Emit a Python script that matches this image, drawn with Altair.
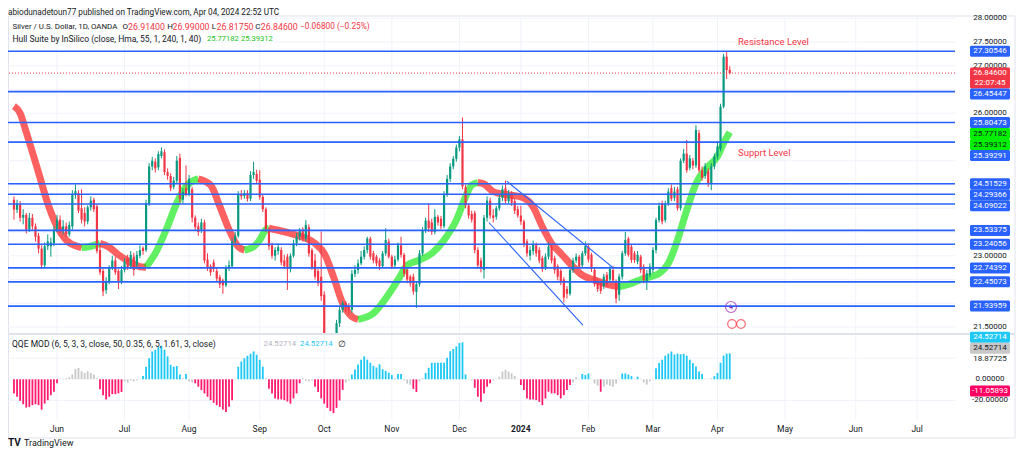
import altair as alt
import pandas as pd

# Silver / U.S. Dollar, 1D, OANDA -- one entry per daily bar, 12 May 2023 .. 5 Apr 2024
opens = [
    24.18, 23.97, 24.08, 23.80, 23.86, 23.55, 23.80, 23.62, 23.42, 23.15,  # 0
    22.80, 23.20, 23.20, 23.26, 23.55, 23.76, 23.55, 23.62, 23.45, 23.62,  # 10
    24.30, 24.32, 24.00, 23.90, 23.72, 24.02, 24.18, 24.04, 23.12, 22.68,  # 20
    22.28, 22.45, 22.75, 22.90, 22.68, 22.45, 22.70, 22.95, 22.78, 22.98,  # 30
    22.80, 23.00, 23.16, 23.12, 24.10, 24.88, 24.98, 24.86, 25.10, 25.18,  # 40
    24.76, 24.68, 24.45, 24.58, 25.06, 24.18, 24.42, 24.30, 24.40, 23.80,  # 50
    23.62, 23.55, 23.70, 22.92, 22.78, 22.86, 22.68, 22.55, 22.48, 22.38,  # 60
    22.74, 22.78, 23.30, 23.42, 24.30, 24.26, 24.32, 24.20, 24.70, 24.72,  # 70
    24.60, 24.24, 23.98, 23.56, 23.22, 23.00, 23.10, 23.12, 22.90, 22.98,  # 80
    22.72, 23.00, 23.26, 23.40, 23.55, 23.36, 23.60, 23.12, 22.90, 22.68,  # 90
    22.56, 22.18, 21.20, 20.95, 21.10, 21.20, 21.58, 21.86, 22.00, 21.92,  # 100
    21.86, 22.62, 22.70, 22.84, 22.98, 23.12, 23.36, 23.05, 22.98, 22.90,  # 110
    22.78, 23.05, 23.30, 22.98, 22.80, 22.92, 23.22, 23.02, 22.70, 22.56,  # 120
    22.56, 22.24, 22.40, 23.05, 23.54, 23.74, 23.70, 23.50, 23.82, 23.78,  # 130
    23.62, 24.30, 24.62, 24.88, 25.04, 25.28, 25.45, 24.44, 24.06, 23.88,  # 140
    23.90, 23.12, 22.90, 22.70, 23.80, 24.16, 23.85, 23.82, 24.00, 24.22,  # 150
    24.42, 24.15, 24.30, 24.15, 23.98, 23.85, 23.72, 23.30, 23.00, 23.10,  # 160
    23.22, 23.12, 22.95, 22.76, 22.98, 23.20, 22.95, 22.78, 22.68, 22.50,  # 170
    22.30, 22.20, 22.70, 22.90, 22.98, 22.80, 23.05, 23.19, 23.02, 22.70,  # 180
    22.46, 22.44, 22.36, 22.60, 22.50, 22.70, 22.45, 22.18, 22.56, 23.05,  # 190
    23.36, 23.19, 23.05, 22.88, 22.98, 22.77, 22.45, 22.60, 22.70, 23.12,  # 200
    23.75, 24.10, 23.75, 24.10, 24.42, 24.22, 24.40, 24.00, 25.00, 25.15,  # 210
    24.85, 25.00, 24.90, 25.58, 24.80, 24.68, 24.78, 24.52, 24.88, 25.09,  # 220
    25.25, 26.14, 27.19, 26.914,                                           # 230
]
highs = [
    24.25, 24.18, 24.15, 23.98, 23.90, 23.90, 23.88, 23.68, 23.48, 23.22,
    23.28, 23.45, 23.38, 23.62, 23.86, 23.85, 23.75, 23.70, 23.72, 24.38,
    24.50, 24.38, 24.40, 24.02, 24.06, 24.25, 24.22, 24.08, 23.20, 22.72,
    22.55, 22.80, 23.00, 22.98, 22.72, 22.78, 22.95, 23.02, 23.10, 23.06,
    23.10, 23.22, 23.20, 24.18, 24.95, 25.08, 25.05, 25.20, 25.28, 25.24,
    24.84, 24.74, 24.66, 25.10, 25.15, 24.42, 24.90, 24.70, 24.45, 23.85,
    23.70, 23.78, 23.76, 23.05, 22.82, 22.92, 22.74, 22.60, 22.52, 22.80,
    22.90, 23.36, 23.50, 24.36, 24.38, 24.38, 24.38, 24.78, 24.98, 24.81,
    24.80, 24.30, 24.02, 23.60, 23.28, 23.18, 23.26, 23.18, 23.02, 23.04,
    23.05, 23.34, 23.48, 23.58, 23.60, 23.75, 23.66, 23.16, 23.04, 22.72,
    23.51, 22.25, 21.35, 21.30, 21.36, 21.65, 21.95, 22.05, 22.05, 22.00,
    22.70, 22.80, 22.92, 23.10, 23.20, 23.40, 23.40, 23.10, 23.02, 22.95,
    23.10, 23.58, 23.36, 23.02, 23.00, 23.28, 23.40, 23.06, 22.75, 22.60,
    22.62, 22.45, 23.12, 23.60, 23.80, 24.10, 23.78, 23.98, 23.86, 23.84,
    24.36, 24.70, 24.95, 25.10, 25.34, 25.52, 25.91, 24.50, 24.10, 23.95,
    23.95, 23.18, 22.96, 23.86, 24.25, 24.22, 23.98, 24.05, 24.30, 24.48,
    24.58, 24.38, 24.36, 24.20, 24.05, 24.05, 23.76, 23.35, 23.20, 23.32,
    23.28, 23.18, 23.00, 23.05, 23.28, 23.25, 23.00, 22.82, 22.72, 22.55,
    22.36, 22.76, 22.96, 23.05, 23.02, 23.10, 23.30, 23.26, 23.06, 22.74,
    22.52, 22.48, 22.62, 22.66, 22.78, 22.78, 22.50, 22.62, 23.10, 23.50,
    23.40, 23.24, 23.10, 23.10, 23.02, 22.82, 22.70, 22.84, 23.18, 23.80,
    24.12, 24.16, 24.16, 24.42, 24.50, 24.45, 24.45, 25.05, 25.25, 25.44,
    25.12, 25.06, 25.75, 25.65, 24.88, 24.95, 24.84, 24.95, 25.15, 25.40,
    26.20, 27.25, 27.30, 26.99,
]
lows = [
    23.76, 23.90, 23.72, 23.66, 23.47, 23.50, 23.55, 23.30, 23.05, 22.72,
    22.74, 23.12, 22.98, 23.20, 23.50, 23.48, 23.45, 23.40, 23.40, 23.55,
    24.20, 23.90, 23.68, 23.62, 23.66, 23.95, 23.92, 23.05, 22.60, 22.15,
    22.20, 22.40, 22.70, 22.60, 22.30, 22.40, 22.65, 22.70, 22.72, 22.58,
    22.75, 22.95, 23.02, 23.08, 24.05, 24.80, 24.75, 24.80, 25.05, 24.70,
    24.60, 24.36, 24.40, 24.52, 24.12, 24.10, 24.25, 24.25, 23.70, 23.52,
    23.42, 23.48, 22.84, 22.68, 22.58, 22.66, 22.45, 22.32, 22.20, 22.34,
    22.68, 22.74, 23.25, 23.38, 24.18, 24.20, 24.14, 24.15, 24.62, 24.52,
    24.18, 23.92, 23.50, 23.12, 22.94, 22.90, 23.02, 22.80, 22.72, 22.28,
    22.65, 22.96, 23.20, 23.32, 23.30, 23.30, 22.98, 22.70, 22.50, 22.36,
    22.05, 21.10, 20.68, 20.75, 20.95, 20.95, 21.50, 21.80, 21.82, 21.78,
    21.80, 22.55, 22.62, 22.80, 22.92, 23.05, 22.92, 22.84, 22.78, 22.70,
    22.74, 23.00, 22.94, 22.72, 22.74, 22.88, 22.96, 22.56, 22.42, 22.35,
    22.18, 21.90, 22.35, 23.00, 23.48, 23.50, 23.44, 23.45, 23.64, 23.56,
    23.58, 24.24, 24.55, 24.82, 24.98, 25.20, 24.40, 24.00, 23.78, 23.70,
    23.05, 22.72, 22.65, 22.52, 23.72, 23.78, 23.70, 23.76, 23.95, 24.15,
    24.10, 24.10, 24.05, 23.88, 23.80, 23.65, 23.18, 22.98, 22.90, 23.02,
    22.98, 22.84, 22.66, 22.70, 22.92, 22.84, 22.62, 22.48, 22.38, 22.02,
    22.10, 22.16, 22.64, 22.85, 22.72, 22.74, 23.00, 22.86, 22.66, 22.35,
    22.24, 22.20, 22.30, 22.35, 22.45, 22.42, 22.00, 22.05, 22.50, 23.00,
    22.98, 22.85, 22.85, 22.82, 22.64, 22.42, 22.28, 22.55, 22.64, 23.05,
    23.70, 23.66, 23.70, 24.05, 24.15, 24.15, 23.95, 23.95, 24.95, 24.75,
    24.80, 24.82, 24.85, 24.75, 24.58, 24.62, 24.45, 24.38, 24.82, 25.02,
    25.20, 26.10, 26.72, 26.8175,
]
closes = [
    23.97, 24.10, 23.80, 23.86, 23.55, 23.80, 23.62, 23.40, 23.15, 22.80,
    23.20, 23.30, 23.28, 23.55, 23.76, 23.55, 23.62, 23.45, 23.65, 24.30,
    24.36, 23.95, 23.76, 23.72, 24.02, 24.16, 23.98, 23.10, 22.65, 22.25,
    22.45, 22.75, 22.90, 22.65, 22.45, 22.70, 22.88, 22.75, 23.02, 22.70,
    23.02, 23.12, 23.10, 24.10, 24.88, 25.00, 24.84, 25.14, 25.20, 24.76,
    24.68, 24.42, 24.58, 25.00, 24.20, 24.34, 24.30, 24.62, 23.80, 23.60,
    23.50, 23.70, 22.90, 22.76, 22.65, 22.72, 22.52, 22.40, 22.38, 22.76,
    22.80, 23.30, 23.42, 24.30, 24.25, 24.32, 24.20, 24.70, 24.76, 24.58,
    24.24, 23.98, 23.56, 23.20, 23.00, 23.12, 23.18, 22.86, 22.78, 22.72,
    23.00, 23.26, 23.40, 23.55, 23.36, 23.65, 23.05, 22.76, 22.56, 22.42,
    22.15, 21.20, 20.95, 21.10, 21.20, 21.58, 21.86, 22.00, 21.90, 21.86,
    22.62, 22.70, 22.84, 22.98, 23.12, 23.36, 22.98, 22.90, 22.84, 22.78,
    23.05, 23.33, 22.98, 22.77, 22.92, 23.22, 23.02, 22.62, 22.50, 22.42,
    22.25, 22.40, 23.05, 23.54, 23.74, 23.58, 23.50, 23.82, 23.70, 23.62,
    24.30, 24.62, 24.88, 25.04, 25.28, 25.45, 24.46, 24.06, 23.85, 23.76,
    23.12, 22.80, 22.76, 23.80, 24.16, 23.85, 23.80, 24.00, 24.22, 24.40,
    24.15, 24.30, 24.12, 23.95, 23.85, 23.72, 23.25, 23.05, 23.12, 23.25,
    23.05, 22.90, 22.72, 22.98, 23.19, 22.90, 22.70, 22.56, 22.45, 22.12,
    22.20, 22.70, 22.90, 22.98, 22.77, 23.05, 23.20, 22.92, 22.72, 22.40,
    22.30, 22.26, 22.56, 22.40, 22.72, 22.48, 22.10, 22.56, 23.05, 23.33,
    23.02, 22.91, 22.91, 23.02, 22.70, 22.49, 22.63, 22.77, 23.12, 23.75,
    24.05, 23.72, 24.10, 24.35, 24.20, 24.35, 24.00, 25.00, 25.15, 24.80,
    25.05, 24.90, 25.65, 24.80, 24.64, 24.88, 24.52, 24.88, 25.09, 25.30,
    26.14, 27.19, 26.91, 26.846,
]

# QQE MOD histogram, one value per bar, and its colour state (b blue, r red, g grey)
qqe_hist = [
    -13.3, -16.5, -20.3, -23.5, -26.7, -26.0, -24.4, -23.5, -24.4, -28.6, -22.9, -19.7, -15.0, -11.7, -3.8,
    0.5, 0.5, 1.0, 2.0, 4.5, 9.8, 10.8, 7.6, 6.0, 7.6, 6.0, 4.5, 1.0,
    -9.5, -15.0, -19.0, -16.5, -14.0, -14.0, -13.3, -12.0,
    -2.0, -3.0, -1.0, -2.0, -1.0, 0.5,
    3.2, 11.9, 19.9, 26.3, 27.9, 30.4, 31.7, 27.9, 21.6, 13.7, 11.9, 12.5, 4.6,
    1.0, 5.0, -2.0, -3.0,
    -3.8, -7.0, -10.2, -13.3, -16.5, -19.7, -22.2, -24.4, -26.0, -28.6, -30.8, -26.0, -19.7,
    0.5,
    11.9, 16.8, 19.9, 22.2, 24.1, 26.3, 23.2, 18.4, 11.9,
    1.0,
    -9.0, -13.3, -18.0, -19.0, -19.0, -19.7, -21.0, -23.0, -18.0, -13.3, -3.8,
    1.0, -1.5, -2.0, -1.0,
    -7.0, -12.0, -18.0, -23.0, -27.0, -30.0, -32.0, -27.0, -20.0, -10.0,
    -3.0, -1.0,
    4.5, 9.3, 14.0, 18.5, 21.6, 18.5, 15.6, 12.7, 11.1, 14.2, 9.5, 7.9, 6.3, 4.0,
    1.0, 5.0, 5.0, -1.0, -4.0, -5.0,
    -9.0, -12.0, -2.0, 1.0,
    6.0, 10.8, 15.6, 15.6, 15.6, 15.6, 15.6, 20.3, 26.5, 28.6, 31.1, 34.2, 34.9, 4.6,
    0.5, -1.0,
    -8.0, -16.5, -21.2, -13.3, -7.0, -3.8,
    -1.0, 0.5, 2.5, 7.3, 8.9, 7.3, 5.7, 3.2, 0.5,
    -5.4, -10.2, -18.1, -19.0, -19.0, -19.7, -21.3, -24.4, -18.1, -11.7, -13.3, -13.3, -14.9, -18.1, -14.9, -10.2, -5.4,
    -3.0, 2.0, 0.5, 5.0, 4.0, 5.5, 0.5, -4.0, -6.0,
    -11.7,
    -7.0, -5.0, -6.0, -7.0, -4.0, 0.5,
    5.5, 5.5, 4.5, 3.0, 0.5, 2.5, 0.5, -3.0, -5.0, -2.0, 0.5,
    10.5, 15.3, 18.5, 22.3, 24.2, 26.2, 23.3, 24.2, 23.6, 24.0, 22.3, 18.5, 15.3, 12.0, 7.3, 5.0,
    0.5, 0.5, 1.0, 3.0, 6.0, 15.6, 22.3, 24.2, 24.52714,
]
qqe_state = (
    "rrrrrrrrrrrrrrr"
    "ggggggggggggg"
    "rrrrrrrr"
    "gggggg"
    "bbbbbbbbbbbbb"
    "gbgg"
    "rrrrrrrrrrrrr"
    "g"
    "bbbbbbbbb"
    "g"
    "rrrrrrrrrrr"
    "gggg"
    "rrrrrrrrrr"
    "gg"
    "bbbbbbbbbbbbbb"
    "gbbggg"
    "rrgg"
    "bbbbbbbbbbbbbb"
    "gg"
    "rrrrrr"
    "ggggggggg"
    "rrrrrrrrrrrrrrrrr"
    "gggbbbggg"
    "r"
    "gggggg"
    "bbbbgbggggg"
    "bbbbbbbbbbbbbbbb"
    "gggbbbbbb"
)

# Hull Suite band: bar, value, segment (segments alternate falling / rising)
hull_bar = [0, 2, 4, 8, 11, 14, 17, 21, 22,
            22, 25, 28,
            28, 31, 34, 38, 41, 43,
            43, 44, 46, 50, 53, 56, 59, 60,
            60, 64, 67, 70, 73, 75,
            75, 78, 80, 82, 83,
            83, 90, 98, 101, 104, 107, 110, 112,
            112, 117, 121, 125, 128, 132, 136, 140, 144, 147, 149, 151,
            151, 153, 156, 161, 165, 169, 172, 175, 178, 182, 185, 189, 194, 197,
            197, 201, 205, 210, 213, 216, 219, 222, 226, 229, 231, 233]
hull_val = [26.15, 26.0, 25.6, 24.75, 24.1, 23.62, 23.33, 23.19, 23.17,
            23.17, 23.2, 23.26,
            23.26, 23.18, 23.02, 22.86, 22.77, 22.76,
            22.76, 22.85, 23.05, 23.62, 24.11, 24.46, 24.6, 24.62,
            24.62, 24.49, 24.04, 23.55, 23.19, 23.12,
            23.12, 23.19, 23.33, 23.55, 23.58,
            23.58, 23.47, 23.26, 23.05, 22.56, 22.0, 21.72, 21.66,
            21.66, 21.79, 22.1, 22.49, 22.8, 22.91, 23.05, 23.33, 23.75, 24.24, 24.49, 24.54,
            24.54, 24.51, 24.35, 24.28, 24.24, 24.03, 23.61, 23.26, 23.05, 22.77, 22.59, 22.49, 22.38, 22.35,
            22.35, 22.42, 22.52, 22.63, 22.84, 23.33, 23.96, 24.52, 24.88, 25.09, 25.37, 25.6]
hull_seg = [0] * 9 + [1] * 3 + [2] * 6 + [3] * 8 + [4] * 6 + [5] * 5 + [6] * 8 + [7] * 12 + [8] * 14 + [9] * 12
hull_dirs = ["down", "up", "down", "up", "down", "up", "down", "up", "down", "up"]

# drawn levels and falling channel
levels = [27.30546, 26.45447, 25.80473, 25.39291, 24.51529, 24.29366,
          24.09022, 23.53375, 23.24056, 22.74392, 22.45073, 21.93959]
chan_bar = [160.4, 195.2, 154.6, 185.2]
chan_val = [24.57, 22.74, 23.70, 21.54]
chan_id = ["upper", "upper", "lower", "lower"]

last_price = 26.846
countdown = "22:07:45"
hull_last = [25.77182, 25.39312]
qqe_last = 24.52714
qqe_line_last = -11.05893
price_ticks = [28.0, 27.5, 27.0, 26.0, 23.0, 21.5]
price_grid = [21.5, 22.0, 22.5, 23.0, 23.5, 24.0, 24.5, 25.0, 25.5, 26.0, 26.5, 27.0, 27.5, 28.0]
qqe_ticks = [18.87725, 0.0, -20.0]
qqe_grid = [20.0, -20.0]

# ---------------------------------------------------------------- layout
W, H = 947, 403
P_TOP, P_BOT = 28.0263, 21.3737          # price pane: plot rows 0..316
Q_TOP, Q_BOT = 41.8, -38.4               # QQE pane: plot rows 318..403
PX = 316 / (P_TOP - P_BOT)
QPX = 85 / (Q_TOP - Q_BOT)
FONT = "Roboto"
INK = "#131722"
UP, DOWN, RED, BLUE = "#089981", "#f23645", "#f23645", "#2962ff"
GRID = "#f0f3fa"

PRICE = alt.Scale(domain=[P_BOT, P_TOP], range=[316, 0], clamp=True, nice=False, zero=False)
QQE = alt.Scale(domain=[Q_BOT, Q_TOP], range=[403, 318], nice=False, zero=False)
XS = alt.Scale(domain=[-0.32, 304.7], nice=False, zero=False)
X = alt.X("bar:Q", scale=XS, axis=None)

n = len(closes)
bars = pd.DataFrame({
    "bar": range(n), "open": opens, "high": highs, "low": lows, "close": closes,
    "dir": ["up" if c >= o else "down" for o, c in zip(opens, closes)],
    "qqe": qqe_hist, "state": list(qqe_state), "zero": 0.0,
})

cal = pd.bdate_range("2023-05-12", "2024-07-31")
cal = cal[~cal.isin(pd.to_datetime(["2023-12-25", "2024-01-01"]))]
ticks = [k for k in range(1, len(cal)) if cal[k].month != cal[k - 1].month]
months = pd.DataFrame({
    "bar": ticks,
    "label": ["2024" if cal[k].month == 1 else cal[k].strftime("%b") for k in ticks],
})

hull = pd.DataFrame({"bar": hull_bar, "val": hull_val, "seg": hull_seg})
hull["dir"] = [hull_dirs[s] for s in hull_seg]
chan = pd.DataFrame({"bar": chan_bar, "val": chan_val, "id": chan_id})

dir_color = alt.Color("dir:N", scale=alt.Scale(domain=["up", "down"], range=[UP, DOWN]), legend=None)


def stack(items, scale_top, pxu, h=11.0):
    """Push overlapping price-scale labels downward, like the chart does."""
    out, prev = [], None
    for d in sorted(items, key=lambda r: -r["value"]):
        y = (scale_top - d["value"]) * pxu
        if prev is not None and y - h / 2 < prev:
            y = prev + h / 2
        prev = y + h / 2 + d["extra"]
        d = dict(d)
        d["y"] = scale_top - y / pxu
        d["y2"] = scale_top - (y + d["extra"]) / pxu
        d["top"] = scale_top - (y - h / 2) / pxu
        d["bot"] = scale_top - (y + h / 2 + d["extra"]) / pxu
        out.append(d)
    return pd.DataFrame(out)


plab = [{"value": v, "text": f"{v:.5f}", "fill": BLUE, "fg": "white", "extra": 0.0} for v in levels]
plab += [{"value": last_price, "text": f"{last_price:.5f}", "fill": RED, "fg": "white", "extra": 10.0}]
plab += [{"value": v, "text": f"{v:.5f}", "fill": "#00f000", "fg": INK, "extra": 0.0} for v in hull_last]
plab = stack(plab, P_TOP, PX)

box_h = 11.0 / QPX
grey_v = max(qqe_last, qqe_ticks[0] + box_h)
qlab = pd.DataFrame({
    "y": [grey_v + box_h, grey_v, qqe_line_last],
    "text": [f"{qqe_last:.5f}", f"{qqe_last:.5f}", f"{qqe_line_last:.5f}"],
    "fill": ["#1ec8f5", "#c8c8c8", "#ff0062"],
    "fg": ["white", INK, "white"],
})
qlab["top"] = qlab["y"] + box_h / 2
qlab["bot"] = qlab["y"] - box_h / 2


def txt(s, x, y, color=INK, size=8.5, weight="normal", align="left"):
    return alt.Chart(pd.DataFrame({"t": [s]})).mark_text(
        align=align, baseline="middle", font=FONT, fontSize=size,
        fontWeight=weight, color=color,
    ).encode(x=alt.value(x), y=alt.value(y), text="t:N")


layers = []

# frame, panes and grid
layers.append(alt.Chart(pd.DataFrame({"a": [0]})).mark_rect(
    fillOpacity=0, stroke="#e0e3eb", strokeWidth=1).encode(
    x=alt.value(0.5), x2=alt.value(1007), y=alt.value(-1), y2=alt.value(421)))
layers.append(alt.Chart(months).mark_rule(color=GRID, strokeWidth=1).encode(
    x=X, y=alt.value(0), y2=alt.value(403)))
layers.append(alt.Chart(pd.DataFrame({"p": price_grid})).mark_rule(color=GRID).encode(
    y=alt.Y("p:Q", scale=PRICE, axis=None)))
layers.append(alt.Chart(pd.DataFrame({"q": qqe_grid})).mark_rule(color=GRID).encode(
    y=alt.Y("q:Q", scale=QQE, axis=None)))

# Hull Suite band
layers.append(alt.Chart(hull).mark_line(strokeWidth=7, strokeCap="butt", interpolate="monotone", opacity=0.62).encode(
    x=X, y=alt.Y("val:Q", scale=PRICE, axis=None), detail="seg:N",
    color=alt.Color("dir:N", scale=alt.Scale(domain=["up", "down"], range=["#00e600", "#ff0000"]), legend=None)))

# candles
layers.append(alt.Chart(bars).mark_rule(strokeWidth=1).encode(
    x=X, y=alt.Y("low:Q", scale=PRICE, axis=None), y2="high:Q", color=dir_color))
layers.append(alt.Chart(bars).mark_bar(width=2.2).encode(
    x=X, y=alt.Y("open:Q", scale=PRICE, axis=None), y2="close:Q", color=dir_color))

# drawings
layers.append(alt.Chart(pd.DataFrame({"p": levels})).mark_rule(color=BLUE, strokeWidth=1.6).encode(
    y=alt.Y("p:Q", scale=PRICE, axis=None)))
layers.append(alt.Chart(chan).mark_line(color=BLUE, strokeWidth=1.1).encode(
    x=X, y=alt.Y("val:Q", scale=PRICE, axis=None), detail="id:N"))
layers.append(alt.Chart(pd.DataFrame({"p": [last_price]})).mark_rule(color=RED, strokeWidth=1, strokeDash=[1, 2]).encode(
    y=alt.Y("p:Q", scale=PRICE, axis=None)))

# QQE MOD histogram
layers.append(alt.Chart(bars).mark_bar(width=1.8).encode(
    x=X, y=alt.Y("qqe:Q", scale=QQE, axis=None), y2="zero:Q",
    color=alt.Color("state:N", scale=alt.Scale(domain=["b", "r", "g"], range=["#1ec8f5", "#ff1a6e", "#c8c8c8"]), legend=None)))

# pane separator
layers.append(alt.Chart(pd.DataFrame({"a": [0]})).mark_rule(color="#e0e3eb", strokeWidth=2).encode(
    x=alt.value(0), x2=alt.value(1007), y=alt.value(317)))

# event icons at the bottom of the price pane
layers.append(alt.Chart(pd.DataFrame({"a": [0]})).mark_point(shape="circle", size=120, color="#9c27b0", strokeWidth=1.2).encode(
    x=alt.value(723), y=alt.value(290)))
layers.append(txt("ϟ", 723, 290, "#9c27b0", 9, "bold", "center"))
layers.append(alt.Chart(pd.DataFrame({"x": [724, 733]})).mark_point(shape="circle", size=75, color="#f23645", strokeWidth=1.2).encode(
    x=alt.X("x:Q", scale=None), y=alt.value(307)))

# month labels
layers.append(alt.Chart(months[months.label != "2024"]).mark_text(
    font=FONT, fontSize=8.5, color=INK, baseline="middle").encode(x=X, y=alt.value(412), text="label:N"))
layers.append(alt.Chart(months[months.label == "2024"]).mark_text(
    font=FONT, fontSize=8.5, fontWeight="bold", color=INK, baseline="middle").encode(x=X, y=alt.value(412), text="label:N"))

# price scale labels
layers.append(alt.Chart(pd.DataFrame({"p": price_ticks, "t": [f"{v:.5f}" for v in price_ticks]})).mark_text(
    font=FONT, fontSize=8, color=INK, baseline="middle").encode(
    x=alt.value(982), y=alt.Y("p:Q", scale=PRICE, axis=None), text="t:N"))
layers.append(alt.Chart(plab).mark_rect(cornerRadius=1.5).encode(
    x=alt.value(962), x2=alt.value(1002), y=alt.Y("top:Q", scale=PRICE, axis=None), y2="bot:Q",
    color=alt.Color("fill:N", scale=None)))
layers.append(alt.Chart(plab).mark_text(font=FONT, fontSize=8, baseline="middle").encode(
    x=alt.value(982), y=alt.Y("y:Q", scale=PRICE, axis=None), text="text:N",
    color=alt.Color("fg:N", scale=None)))
layers.append(alt.Chart(plab[plab.extra > 0].assign(t=countdown)).mark_text(
    font=FONT, fontSize=8, baseline="middle", color="white").encode(
    x=alt.value(982), y=alt.Y("y2:Q", scale=PRICE, axis=None), text="t:N"))

# QQE scale labels
layers.append(alt.Chart(pd.DataFrame({"q": qqe_ticks, "t": [f"{v:.5f}" for v in qqe_ticks]})).mark_text(
    font=FONT, fontSize=8, color=INK, baseline="middle").encode(
    x=alt.value(982), y=alt.Y("q:Q", scale=QQE, axis=None), text="t:N"))
layers.append(alt.Chart(qlab).mark_rect(cornerRadius=1.5).encode(
    x=alt.value(962), x2=alt.value(1002), y=alt.Y("top:Q", scale=QQE, axis=None), y2="bot:Q",
    color=alt.Color("fill:N", scale=None)))
layers.append(alt.Chart(qlab).mark_text(font=FONT, fontSize=8, baseline="middle").encode(
    x=alt.value(982), y=alt.Y("y:Q", scale=QQE, axis=None), text="text:N",
    color=alt.Color("fg:N", scale=None)))

# header and legends
layers.append(txt("abiodunadetoun77 published on TradingView.com, Apr 04, 2024 22:52 UTC", 0, -4.5, size=8.2))
layers.append(txt("Silver / U.S. Dollar, 1D, OANDA", 4.5, 10, size=7.9))
legend_row = [("O", 114.5, INK, 8), ("26.91400", 120, RED, 8.8),
              ("H", 159.2, INK, 8), ("26.99000", 164.6, RED, 8.8),
              ("L", 203.8, INK, 8), ("26.81750", 208.6, RED, 8.8),
              ("C", 247.3, INK, 8), ("26.84600", 252.8, RED, 8.8),
              ("\u22120.06800 (\u22120.25%)", 292, RED, 8.3)]
for s, x, c, fs in legend_row:
    layers.append(txt(s, x, 10, c, fs))
layers.append(txt("Hull Suite by InSilico (close, Hma, 55, 1, 240, 1, 40)", 4.5, 22))
layers.append(txt("25.77182", 199, 22, "#22c322", 7.6))
layers.append(txt("25.39312", 233, 22, "#22c322", 7.6))
layers.append(txt("QQE MOD (6, 5, 3, 3, close, 50, 0.35, 6, 5, 1.61, 3, close)", 4, 327))
layers.append(txt("24.52714", 255.5, 327, "#b2b5be", 7.8))
layers.append(txt("24.52714", 292, 327, "#1ec8f5", 7.8))
layers.append(txt("\u2205", 330, 327))
layers.append(txt("Resistance Level", 730, 25, RED, 9.5))
layers.append(txt("Supprt Level", 730, 136, RED, 9.5))
layers.append(txt("TV", 0, 426, INK, 10, "bold"))
layers.append(txt("TradingView", 16, 426, INK, 9))

chart = alt.layer(*layers).resolve_scale(
    y="independent", color="independent"
).properties(
    width=W, height=H,
    padding={"left": 0, "top": 9, "right": 61, "bottom": 28},
    autosize=alt.AutoSizeParams(type="none"),
    background="white",
).configure_view(stroke=None)

chart.save("out.html", embed_options={"renderer": "svg", "actions": False})
